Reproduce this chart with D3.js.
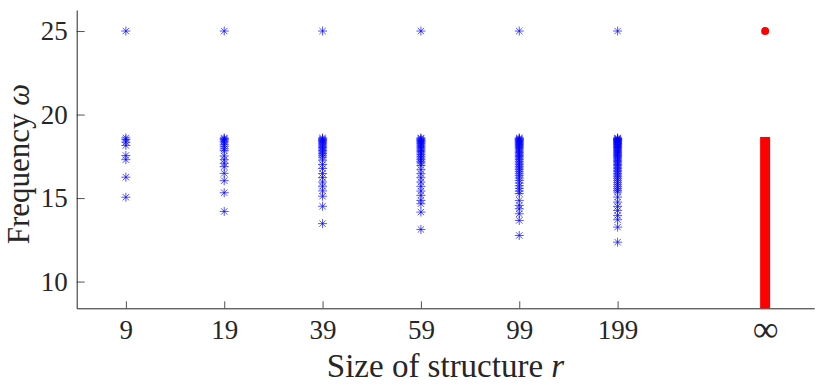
<!DOCTYPE html>
<html>
<head>
<meta charset="utf-8">
<script src="https://cdn.jsdelivr.net/npm/d3@7"></script>
<style>
  body { margin: 0; background: #fff; }
</style>
</head>
<body>
<svg id="chart" width="830" height="388"></svg>
<script>
// categories (structure size r) and their frequencies
var sizes = ["9", "19", "39", "59", "99", "199"];
var infLabel = "\u221E";

var freq9 = [25, 18.6, 18.5, 18.35, 18.15, 17.55, 17.3, 16.25, 15.05];
var freq19 = [25, 18.6, 18.55, 18.5, 18.42, 18.35, 18.22, 18.1, 17.95, 17.84, 17.52, 17.3, 17.08, 16.88, 16.48, 16.04, 15.32, 14.2];
var freq39 = [25, 18.6, 18.55, 18.5, 18.45, 18.4, 18.33, 18.25, 18.18, 18.1, 18.02, 17.94, 17.85, 17.76, 17.66, 17.56, 17.45,
	17.27, 17.01, 16.77, 16.47, 16.23, 15.96, 15.71, 15.43, 15.11, 14.51, 13.47];
var freq59 = [25, 18.6, 18.55, 18.5, 18.45, 18.4, 18.35, 18.3, 18.24, 18.17, 18.1, 18.02, 17.94, 17.86, 17.78, 17.7, 17.6, 17.5,
	17.4, 17.3, 17.2, 17.1, 16.95, 16.7, 16.46, 16.22, 15.96, 15.7, 15.42, 15.16, 14.86, 14.66, 14.16, 13.12];
var freq99 = [25, 18.6, 18.56, 18.52, 18.48, 18.44, 18.4, 18.35, 18.3, 18.25, 18.2, 18.14, 18.08, 18.02, 17.95, 17.88, 17.8,
	17.72, 17.64, 17.56, 17.48, 17.4, 17.3, 17.2, 17.1, 17.0, 16.9, 16.8, 16.7, 16.58, 16.46, 16.34, 16.2, 16.06, 15.9, 15.74,
	15.58, 15.42, 15.27, 14.86, 14.56, 14.36, 14.06, 13.66, 12.76];
var freq199 = [25, 18.6, 18.57, 18.54, 18.51, 18.48, 18.45, 18.42, 18.38, 18.34, 18.3, 18.26, 18.22, 18.18, 18.13, 18.08, 18.03,
	17.98, 17.92, 17.86, 17.8, 17.74, 17.68, 17.62, 17.55, 17.48, 17.41, 17.34, 17.26, 17.18, 17.1, 17.02, 16.94, 16.85, 16.76,
	16.67, 16.58, 16.48, 16.38, 16.28, 16.18, 16.06, 15.94, 15.82, 15.7, 15.58, 15.46, 15.36, 15.06, 14.76, 14.5, 14.26, 13.96,
	13.7, 13.26, 12.36];

// limit r -> infinity: continuous band top and isolated point
var infBandTop = 18.66;
var infPoint = 25;

var yTicks = [10, 15, 20, 25];

var columns = [freq9, freq19, freq39, freq59, freq99, freq199];

var FONT = "Liberation Serif";
var INK = "#262626";

var svg = d3.select("#chart");

var x = d3.scaleLinear().domain([0.5, 8]).range([76.7, 814.3]);
var y = d3.scaleLinear().domain([8.4, 26.26]).range([308.3, 10]);
var infPos = 7.5;

/*
Axes
*/
var tickVals = sizes.map(function(d, i) { return i + 1; }).concat([infPos]);
var xAxis = d3.axisBottom(x).tickValues(tickVals).tickSizeInner(-7).tickSizeOuter(0).tickPadding(11.5)
	.tickFormat(function(d) { return d === infPos ? infLabel : sizes[d - 1]; });
var yAxis = d3.axisLeft(y).tickValues(yTicks).tickSizeInner(-8).tickSizeOuter(0).tickPadding(9);

var gx = svg.append("g").attr("transform", "translate(0," + y.range()[0] + ")").call(xAxis);
var gy = svg.append("g").attr("transform", "translate(" + x.range()[0] + ",0)").call(yAxis);

[gx, gy].forEach(function(g) {
	g.attr("font-family", null).attr("font-size", null);
	g.select(".domain").attr("stroke", INK).attr("stroke-width", 1);
	g.selectAll(".tick line").attr("stroke", INK).attr("stroke-width", 0.8);
	g.selectAll(".tick text").style("font-family", FONT).style("font-size", "27px").attr("fill", INK);
});
gx.selectAll(".tick text").filter(function(d) { return d === infPos; }).style("font-size", "36px").attr("dy", "0.6em");

/*
Asterisk markers
*/
var star = "M0,-4.5V4.5M-4.5,0H4.5M-3.2,-3.2L3.2,3.2M-3.2,3.2L3.2,-3.2";
var pts = [];
columns.forEach(function(col, i) {
	col.forEach(function(v) { pts.push({ c: i + 1, v: v }); });
});
svg.append("g").selectAll("path").data(pts).enter().append("path")
	.attr("d", star)
	.attr("transform", function(d) { return "translate(" + x(d.c) + "," + y(d.v) + ")"; })
	.attr("fill", "none").attr("stroke", "#0000ff").attr("stroke-width", 0.9).attr("stroke-opacity", 0.75);

/*
Infinity limit: red band and dot
*/
svg.append("rect")
	.attr("x", x(infPos) - 5).attr("width", 10)
	.attr("y", y(infBandTop)).attr("height", y(y.domain()[0]) - y(infBandTop))
	.attr("fill", "#ff0000");
svg.append("circle").attr("cx", x(infPos)).attr("cy", y(infPoint)).attr("r", 4).attr("fill", "#ff0000");

/*
Axis labels
*/
var xl = svg.append("text").attr("x", (x.range()[0] + x.range()[1]) / 2).attr("y", 377)
	.attr("text-anchor", "middle").attr("fill", INK).style("font-family", FONT).style("font-size", "33px");
xl.append("tspan").text("Size of structure ");
xl.append("tspan").style("font-style", "italic").text("r");

var yl = svg.append("text").attr("transform", "translate(29,164) rotate(-90)")
	.attr("text-anchor", "middle").attr("fill", INK).style("font-family", FONT).style("font-size", "31px");
yl.append("tspan").text("Frequency ");
yl.append("tspan").style("font-style", "italic").text("\u03C9");
</script>
</body>
</html>
